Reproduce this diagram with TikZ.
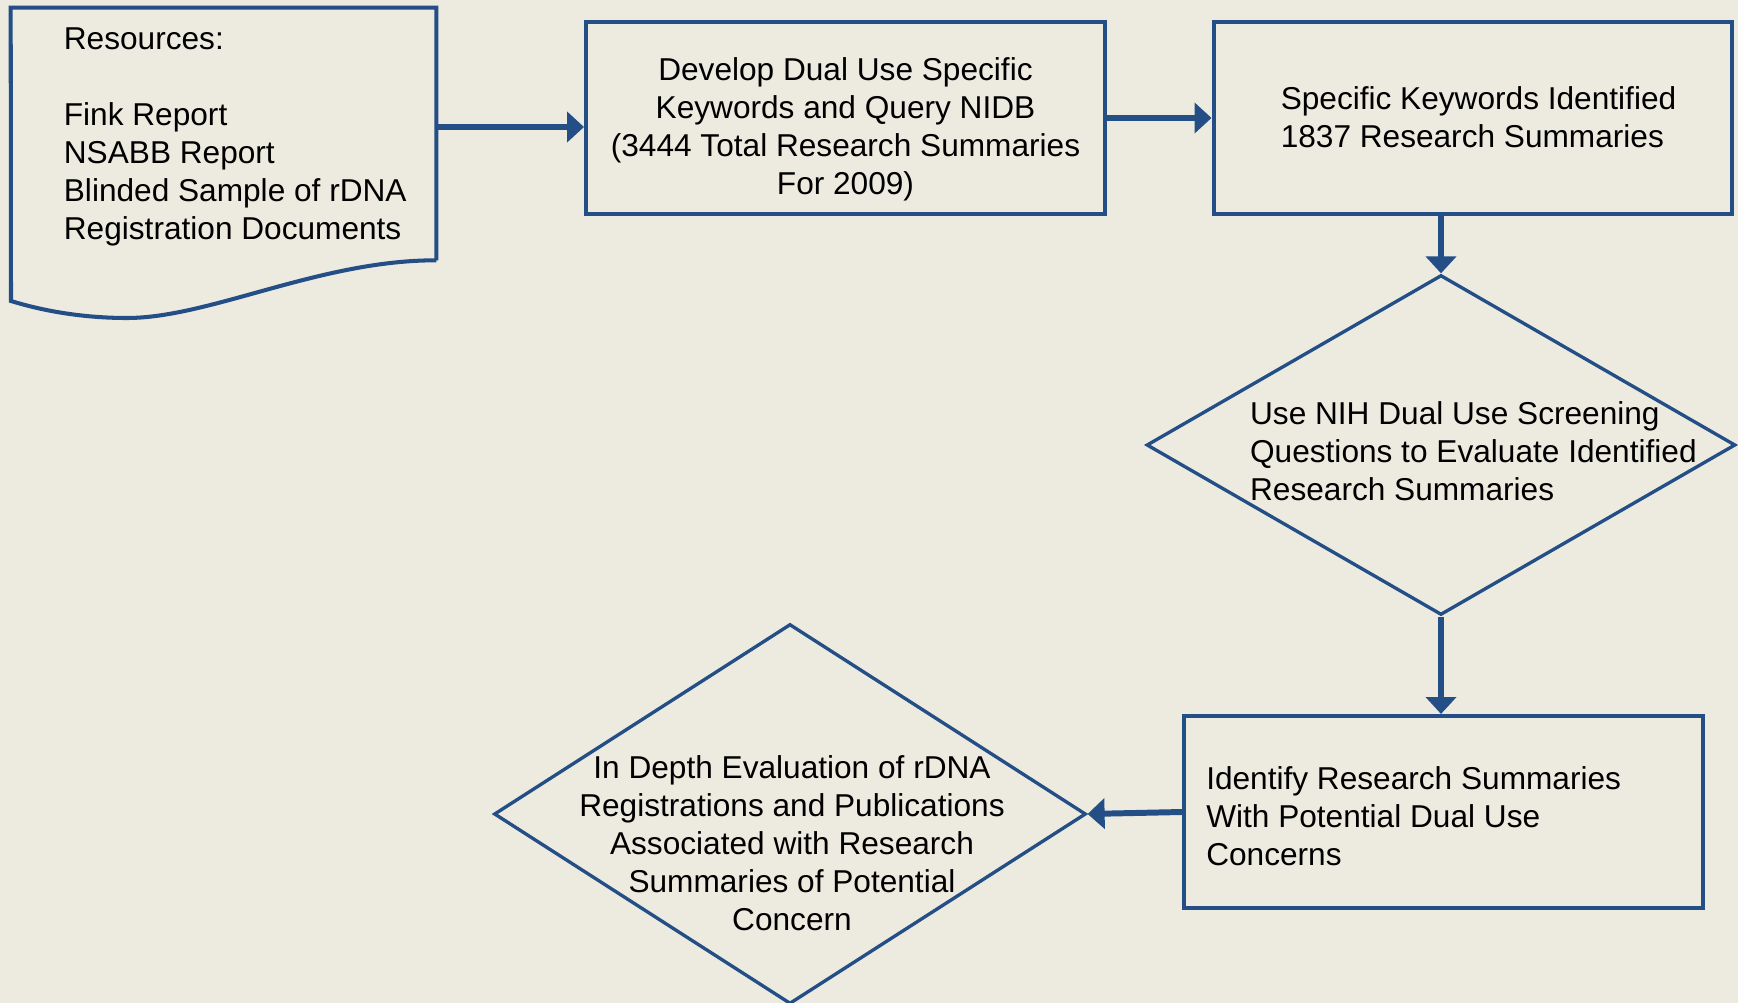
\documentclass[tikz,border=0pt]{standalone}
\usepackage{fontspec}
\setmainfont{Liberation Sans}
\usetikzlibrary{shapes.geometric,arrows.meta}
\definecolor{chartblue}{RGB}{35,78,134}
\definecolor{paper}{RGB}{237,235,224}

\begin{document}
\begin{tikzpicture}[x=0.02cm,y=-0.02cm,
  every node/.style={font=\fontsize{18}{21.6}\selectfont},
  box/.style={draw=chartblue,line width=2.3pt,rectangle,minimum width=10.38cm,minimum height=3.84cm,align=center},
  dia/.style={draw=chartblue,line width=1.9pt,diamond,inner sep=0pt},
  arr/.style={draw=chartblue,line width=3.4pt,-{Triangle[length=0.34cm,width=0.6cm]}}]
\fill[paper] (0,0) rectangle (1738,1003);
\useasboundingbox (0,0) rectangle (1738,1003);
% resources sheet
\node[minimum width=8.5cm,minimum height=5.04cm,inner sep=0pt] (res) at (223.5,134) {};
\draw[chartblue,line width=2.3pt,line join=miter] (res.south east) -- (res.north east) -- (res.north west) -- (11,301)
  .. controls (50,313) and (90,318) .. (127,318)
  .. controls (210,318) and (320,260) .. (res.south east);
\node[anchor=west,align=left] (restext) at ([shift={(47,3)}]res.west) {Resources:\\[21.6pt]Fink Report\\NSABB Report\\Blinded Sample of rDNA\\Registration Documents};
\node[box] (query) at (845.5,118) {};
\node[align=center] (querytext) at ([shift={(0,11)}]query.center) {Develop Dual Use Specific\\Keywords and Query NIDB\\(3444 Total Research Summaries\\For 2009)};
\node[box] (kw) at (1473,118) {};
\node[anchor=west,align=left] (kwtext) at ([shift={(63,-1)}]kw.west) {Specific Keywords Identified\\1837 Research Summaries};
\node[dia,minimum width=11.78cm,minimum height=6.8cm] (scr) at (1441,445) {};
\node[anchor=west,align=left] (scrtext) at ([shift={(99,6)}]scr.west) {Use NIH Dual Use Screening\\Questions to Evaluate Identified\\Research Summaries};
\node[box] (ident) at (1443.5,812) {};
\node[anchor=west,align=left] (identtext) at ([shift={(18,4)}]ident.west) {Identify Research Summaries\\With Potential Dual Use\\Concerns};
\node[dia,minimum width=11.84cm,minimum height=7.6cm] (eval) at (790,814) {};
\node[align=center] (evaltext) at ([shift={(2,29)}]eval.center) {In Depth Evaluation of rDNA\\Registrations and Publications\\Associated with Research\\Summaries of Potential\\Concern};
% flow
\draw[arr] (res.east |- 0,127) -- (query.west |- 0,127);
\draw[arr] (query.east) -- (kw.west);
\draw[arr] (kw.south -| scr.north) -- (scr.north);
\draw[arr] (scr.south) -- (scr.south |- ident.north);
\draw[arr] (ident.west) -- (eval.east);
\end{tikzpicture}
\end{document}
